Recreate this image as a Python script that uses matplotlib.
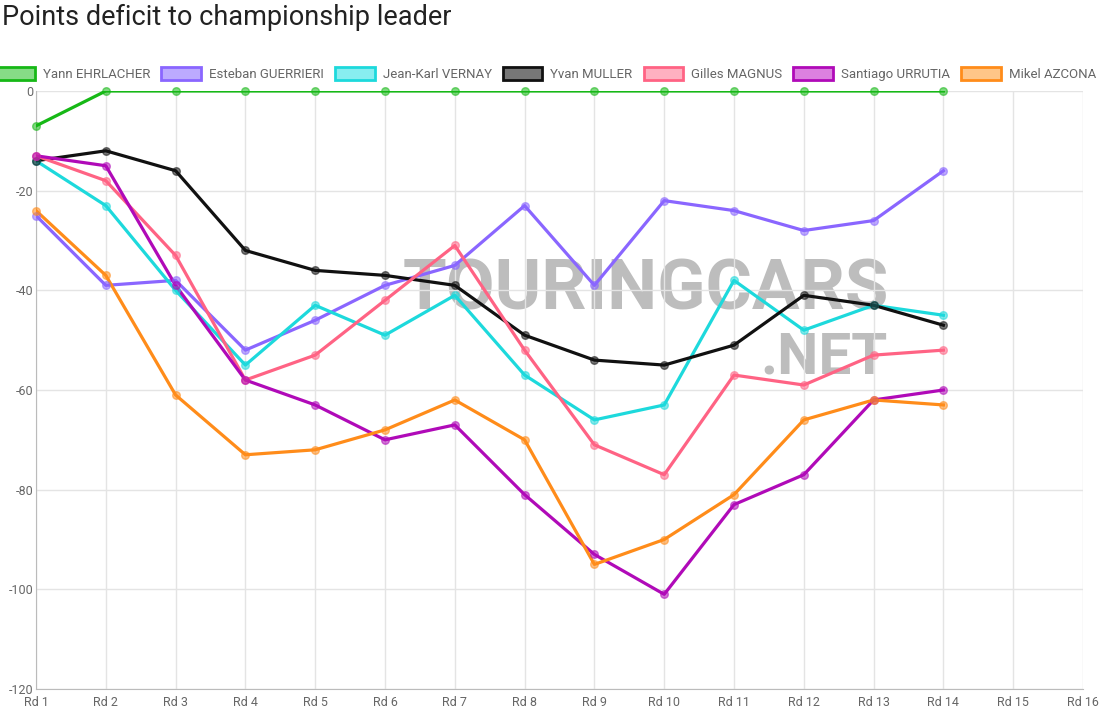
import matplotlib.pyplot as plt
from matplotlib.patches import Patch

plt.rcParams['font.family'] = ['Roboto', 'DejaVu Sans']
plt.rcParams['axes.unicode_minus'] = False

rounds = [f'Rd {i}' for i in range(1, 17)]

drivers = ['Yann EHRLACHER', 'Esteban GUERRIERI', 'Jean-Karl VERNAY', 'Yvan MULLER',
           'Gilles MAGNUS', 'Santiago URRUTIA', 'Mikel AZCONA']

ehrlacher = [-7, 0, 0, 0, 0, 0, 0, 0, 0, 0, 0, 0, 0, 0]
guerrieri = [-25, -39, -38, -52, -46, -39, -35, -23, -39, -22, -24, -28, -26, -16]
vernay = [-14, -23, -40, -55, -43, -49, -41, -57, -66, -63, -38, -48, -43, -45]
muller = [-14, -12, -16, -32, -36, -37, -39, -49, -54, -55, -51, -41, -43, -47]
magnus = [-13, -18, -33, -58, -53, -42, -31, -52, -71, -77, -57, -59, -53, -52]
urrutia = [-13, -15, -39, -58, -63, -70, -67, -81, -93, -101, -83, -77, -62, -60]
azcona = [-24, -37, -61, -73, -72, -68, -62, -70, -95, -90, -81, -66, -62, -63]

series = [ehrlacher, guerrieri, vernay, muller, magnus, urrutia, azcona]
colors = ['#16b816', '#8a66ff', '#1dd9dc', '#111111', '#ff6384', '#b00ab8', '#ff8c1a']
fills = ['#86dc86', '#bcaaff', '#88eef0', '#777777', '#ffb0c1', '#dc80e0', '#ffc688']

fig = plt.figure(figsize=(11, 7.18), dpi=100)
ax = fig.add_axes([36 / 1100, 1 - 689 / 718, (1083 - 36) / 1100, (689 - 91) / 718])

# faint watermark behind the data
ax.text(5.25, -40.0, 'TOURINGCARS', fontsize=51, fontweight='bold', color='#bdbdbd',
        ha='left', va='center', zorder=0)
ax.text(12.2, -53.5, '.NET', fontsize=42, fontweight='bold', color='#bdbdbd',
        ha='right', va='center', zorder=0)

x = list(range(len(ehrlacher)))
for vals, c, fc, name in zip(series, colors, fills, drivers):
    ax.plot(x, vals, color=c, lw=2.3, zorder=3, label=name)
    ax.scatter(x, vals, s=30, color=c, alpha=0.55, edgecolor=c, linewidth=1,
               zorder=4, clip_on=False)

ax.set_xlim(0, len(rounds) - 1)
ax.set_ylim(-120, 0)
ax.set_xticks(range(len(rounds)))
ax.set_xticklabels(rounds)
ax.set_yticks(range(-120, 1, 20))
ax.grid(True, color='#e4e4e4', lw=1)
ax.set_axisbelow(True)
for s in ['top', 'right']:
    ax.spines[s].set_visible(False)
for s in ['left', 'bottom']:
    ax.spines[s].set_color('#bbbbbb')
ax.tick_params(colors='#666666', labelsize=9, length=0, pad=5)
ax.tick_params(axis='y', pad=2)

fig.text(0.002, 0.975, 'Points deficit to championship leader', fontsize=19.5,
         color='#222222', ha='left', va='center')

handles = [Patch(facecolor=fc, edgecolor=c, linewidth=2) for c, fc in zip(colors, fills)]
fig.legend(handles, drivers, loc='center', bbox_to_anchor=(0.496, 1 - 74 / 718), ncol=7,
           frameon=False, fontsize=9.5, handlelength=3.0, handleheight=1.1,
           handletextpad=0.6, columnspacing=0.85, labelcolor='#666666')

fig.savefig('out.png', dpi=100)
